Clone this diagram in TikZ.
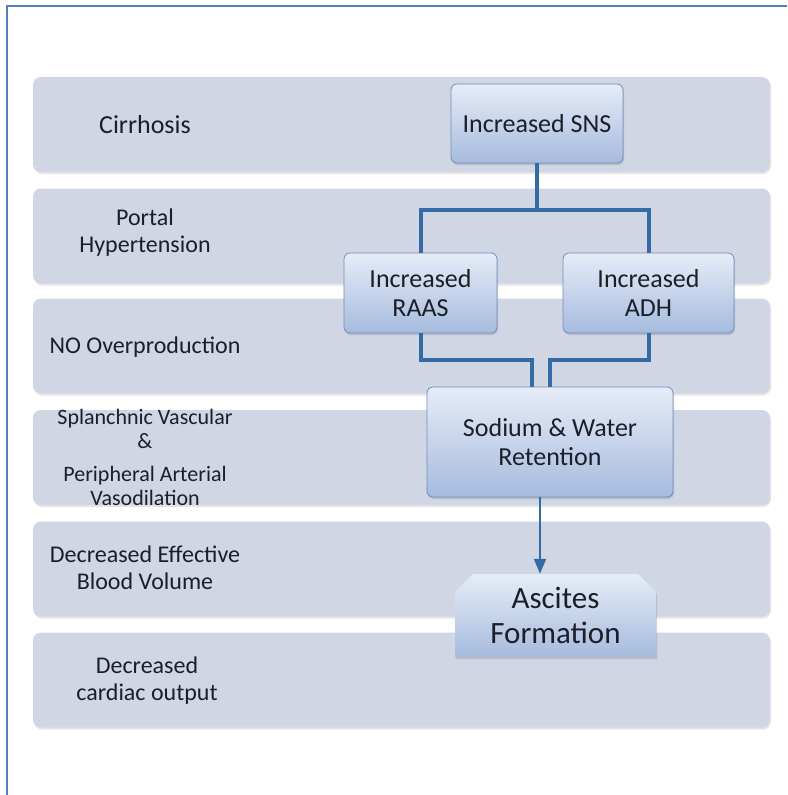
\documentclass[tikz,border=0pt]{standalone}
\usepackage{fontspec}
\setmainfont{Carlito}
\usetikzlibrary{shapes}
\usetikzlibrary{shapes.misc}
\usetikzlibrary{arrows}
\usetikzlibrary{shadows}

\definecolor{bandgray}{RGB}{208,214,228}
\definecolor{boxtop}{RGB}{230,236,247}
\definecolor{boxbot}{RGB}{166,187,222}
\definecolor{boxline}{RGB}{112,142,186}
\definecolor{linkblue}{RGB}{52,106,166}
\definecolor{framblue}{RGB}{79,129,189}
\definecolor{txtdark}{RGB}{28,30,40}

\begin{document}
\begin{tikzpicture}[x=1pt, y=-1pt,
    band/.style={fill=bandgray, rounded corners=8pt, minimum width=737pt,
                 minimum height=95pt, inner sep=0pt,
                 drop shadow={shadow xshift=1pt, shadow yshift=-2pt, opacity=0.2}},
    lbl/.style={align=center, text=txtdark, font=\fontsize{24}{27}\selectfont},
    stage/.style={draw=boxline, line width=0.8pt, rounded corners=6pt,
                  top color=boxtop, bottom color=boxbot, align=center,
                  text=txtdark, inner sep=0pt, font=\fontsize{26}{29}\selectfont,
                  drop shadow={shadow xshift=1pt, shadow yshift=-2pt, opacity=0.3}},
    link/.style={draw=linkblue, line width=4pt},
    arr/.style={draw=linkblue, line width=2.5pt, -triangle 45}]
    \useasboundingbox (0,0) rectangle (787,795);
    \fill[white] (0,0) rectangle (787,795);
    % frame
    \draw[framblue, line width=2pt] (7,795) -- (7,6) -- (787,6);

    % rows
    \node[band] (row1) at (401.5,124.5) {};
    \node[band] (row2) at (401.5,236) {};
    \node[band] (row3) at (401.5,346) {};
    \node[band] (row4) at (401.5,457.5) {};
    \node[band] (row5) at (401.5,569) {};
    \node[band] (row6) at (401.5,680) {};

    \node[lbl, font=\fontsize{26}{29}\selectfont] (cirr) at (145,125) {Cirrhosis};
    \node[lbl] (portal) at (145,233) {Portal\\Hypertension};
    \node[lbl] (noover) at (145,347) {NO Overproduction};
    \node[lbl, font=\fontsize{22}{24}\selectfont] (vasod) at (145,457)
         {Splanchnic Vascular\\ \&\\[9pt] Peripheral Arterial\\Vasodilation};
    \node[lbl] (ebv) at (145,568) {Decreased Effective\\Blood Volume};
    \node[lbl] (cardout) at (147,681) {Decreased\\cardiac output};

    % mechanism
    \node[stage, minimum width=172pt, minimum height=79pt] (sns) at (537,123.5)
         {Increased SNS};
    \node[stage, minimum width=153pt, minimum height=80pt] (raas) at (420.5,293)
         {Increased\\RAAS};
    \node[stage, minimum width=171pt, minimum height=80pt] (adh) at (648.5,293)
         {Increased\\ADH};
    \node[stage, minimum width=246pt, minimum height=110pt] (sod) at (550,442)
         {Sodium \& Water\\Retention};
    \node[stage, rounded corners=0pt, chamfered rectangle,
          chamfered rectangle corners={north west, north east},
          chamfered rectangle xsep=9pt, chamfered rectangle ysep=9pt,
          draw=none, minimum width=201pt, minimum height=83pt,
          font=\fontsize{31}{35}\selectfont] (asc) at (555.5,615.5)
         {Ascites\\Formation};

    \coordinate (sodin) at ([xshift=-18pt]sod.north);
    \coordinate (sodout) at ([xshift=-10pt]sod.south);

    \draw[link] (sns.south) -- ++(0,47) -| (raas.north);
    \draw[link] (sns.south) -- ++(0,47) -| (adh.north);
    \draw[link] (raas.south) -- ++(0,27) -| (sodin);
    \draw[link] (adh.south) -- ++(0,27) -| (sod.north);
    \draw[arr] (sodout) -- (sodout |- asc.north);
\end{tikzpicture}
\end{document}
